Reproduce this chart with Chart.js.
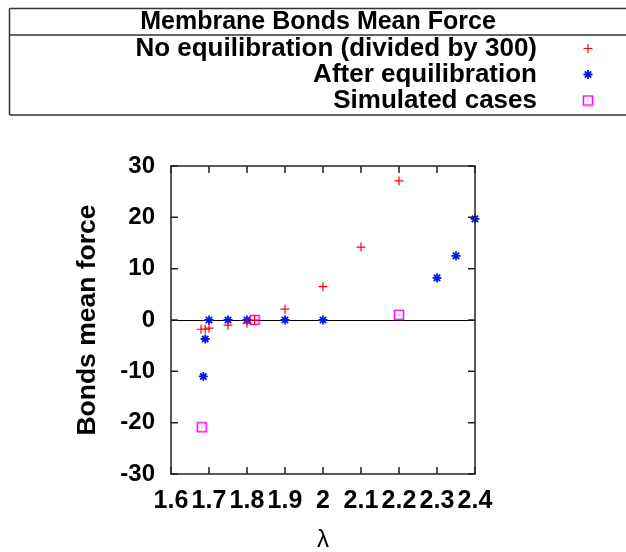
<!DOCTYPE html>
<html>
<head>
<meta charset="utf-8">
<script src="https://cdn.jsdelivr.net/npm/chart.js@4/dist/chart.umd.min.js"></script>
<style>
  body { margin: 0; background: #fff; }
  #wrap { width: 626px; height: 552px; }
</style>
</head>
<body>
<div id="wrap"><canvas id="c" width="626" height="552"></canvas></div>
<script>
// --- DATA ---
const noEqX   = [1.679, 1.69, 1.70, 1.75, 1.80, 1.82, 1.90, 2.00, 2.10, 2.20];
const noEqY   = [-1.8, -1.8, -1.6, -1.0, -0.6, 0.0, 2.1, 6.5, 14.2, 27.1];
const afterX  = [1.685, 1.69, 1.70, 1.75, 1.80, 1.90, 2.00, 2.30, 2.35, 2.40];
const afterY  = [-11.0, -3.7, 0.0, 0.0, 0.0, 0.0, 0.0, 8.2, 12.5, 19.7];
const simX    = [1.681, 1.82, 2.20];
const simY    = [-20.9, 0.0, 1.0];
const xTicks  = [1.6, 1.7, 1.8, 1.9, 2.0, 2.1, 2.2, 2.3, 2.4];
const yTicks  = [-30, -20, -10, 0, 10, 20, 30];
const legendTitle = 'Membrane Bonds Mean Force';
const seriesNames = ['No equilibration (divided by 300)', 'After equilibration', 'Simulated cases'];

const FONT = '"Liberation Sans", Arial, Helvetica, sans-serif';
const RED = '#ff0000', BLUE = '#0018e8', MAGENTA = '#ff00ff';

function toPts(xs, ys) { return xs.map((x, i) => ({x: x, y: ys[i]})); }

// square with a dot in the middle
const sqImg = document.createElement('canvas');
sqImg.width = 12; sqImg.height = 12;
(function() {
  const g = sqImg.getContext('2d');
  g.strokeStyle = MAGENTA; g.lineWidth = 1.5;
  g.strokeRect(1.5, 1.5, 9, 9);
  g.fillStyle = MAGENTA;
  g.fillRect(5.5, 5.5, 1, 1);
})();

// --- frame, inward ticks, zero line, boxed legend ---
const gnuplotLook = {
  id: 'gnuplotLook',
  beforeDatasetsDraw(chart) {
    const {ctx, chartArea: a, scales: {y}} = chart;
    const y0 = Math.round(y.getPixelForValue(0)) + 0.5;
    ctx.save();
    ctx.strokeStyle = '#000'; ctx.lineWidth = 1;
    ctx.beginPath(); ctx.moveTo(a.left, y0); ctx.lineTo(a.right, y0); ctx.stroke();
    ctx.restore();
  },
  afterDatasetsDraw(chart) {
    const {ctx, chartArea: a, scales: {x, y}} = chart;
    const L = 7;
    ctx.save();
    ctx.strokeStyle = '#222'; ctx.lineWidth = 1.5;
    ctx.strokeRect(a.left, a.top, a.right - a.left, a.bottom - a.top);
    ctx.beginPath();
    xTicks.forEach(v => {
      const px = x.getPixelForValue(v);
      ctx.moveTo(px, a.bottom); ctx.lineTo(px, a.bottom - L);
      ctx.moveTo(px, a.top); ctx.lineTo(px, a.top + L);
    });
    yTicks.forEach(v => {
      const py = y.getPixelForValue(v);
      ctx.moveTo(a.left, py); ctx.lineTo(a.left + L, py);
      ctx.moveTo(a.right, py); ctx.lineTo(a.right - L, py);
    });
    ctx.stroke();
    ctx.restore();
  },
  afterDraw(chart) {
    const ctx = chart.ctx;
    ctx.save();
    // legend box
    ctx.strokeStyle = '#333'; ctx.lineWidth = 1.5;
    ctx.beginPath();
    ctx.moveTo(9.5, 8.5); ctx.lineTo(640, 8.5);
    ctx.moveTo(9.5, 8.5); ctx.lineTo(9.5, 115);
    ctx.moveTo(9.5, 35); ctx.lineTo(640, 35);
    ctx.moveTo(9.5, 115); ctx.lineTo(640, 115);
    ctx.stroke();

    ctx.fillStyle = '#000';
    ctx.textBaseline = 'alphabetic';
    // title, centred
    ctx.font = 'bold 25px ' + FONT;
    ctx.textAlign = 'center';
    ctx.fillText(legendTitle, 318, 29);
    ctx.font = 'bold 26px ' + FONT;
    ctx.textAlign = 'right';
    const rowsY = [55.5, 81.5, 107.5];
    seriesNames.forEach((s, i) => ctx.fillText(s, 537, rowsY[i]));
    // legend markers, same styles as the datasets
    chart.data.datasets.forEach((ds, i) => {
      const opts = {pointStyle: ds.pointStyle, radius: ds.pointRadius, rotation: 0, borderWidth: ds.borderWidth};
      ctx.strokeStyle = ds.borderColor; ctx.fillStyle = ds.backgroundColor; ctx.lineWidth = ds.borderWidth;
      Chart.helpers.drawPoint(ctx, opts, 588, rowsY[i] - 7);
    });
    ctx.restore();
  }
};

new Chart(document.getElementById('c'), {
  type: 'scatter',
  data: {
    datasets: [
      { label: seriesNames[0], data: toPts(noEqX, noEqY), pointStyle: 'cross', pointRadius: 4.5,
        borderColor: RED, backgroundColor: RED, borderWidth: 1.2, clip: false },
      { label: seriesNames[1], data: toPts(afterX, afterY), pointStyle: 'star', pointRadius: 4.5,
        borderColor: BLUE, backgroundColor: BLUE, borderWidth: 1.8, clip: false },
      { label: seriesNames[2], data: toPts(simX, simY), pointStyle: sqImg, pointRadius: 6,
        borderColor: MAGENTA, backgroundColor: MAGENTA, borderWidth: 1.5, clip: false }
    ]
  },
  options: {
    responsive: false,
    animation: false,
    devicePixelRatio: 1,
    layout: { padding: { top: 166, right: 151, left: 0, bottom: 0 } },
    plugins: { legend: { display: false }, tooltip: { enabled: false } },
    scales: {
      x: {
        type: 'linear', min: 1.6, max: 2.4,
        afterBuildTicks: s => { s.ticks = xTicks.map(v => ({value: v})); },
        afterFit: s => { s.height = 78; },
        grid: { display: false, drawTicks: false },
        border: { display: false },
        ticks: { autoSkip: false, maxRotation: 0, minRotation: 0, padding: 12, color: '#000',
                 font: { family: FONT, size: 25, weight: 'bold' },
                 callback: v => String(+v.toFixed(1)) },
        title: { display: true, text: 'λ', color: '#000', padding: { top: 0, bottom: 0 },
                 font: { family: FONT, size: 24, lineHeight: 1 } }
      },
      y: {
        type: 'linear', min: -30, max: 30,
        afterBuildTicks: s => { s.ticks = yTicks.map(v => ({value: v})); },
        afterFit: s => { s.width = 171; },
        grid: { display: false, drawTicks: false },
        border: { display: false },
        ticks: { padding: 16, color: '#000', font: { family: FONT, size: 24, weight: 'bold' },
                 callback: v => String(v) },
        title: { display: true, text: 'Bonds mean force', color: '#000', padding: { top: 72, bottom: 0 },
                 font: { family: FONT, size: 26.5, weight: 'bold', lineHeight: 1.2 } }
      }
    }
  },
  plugins: [gnuplotLook]
});
</script>
</body>
</html>
